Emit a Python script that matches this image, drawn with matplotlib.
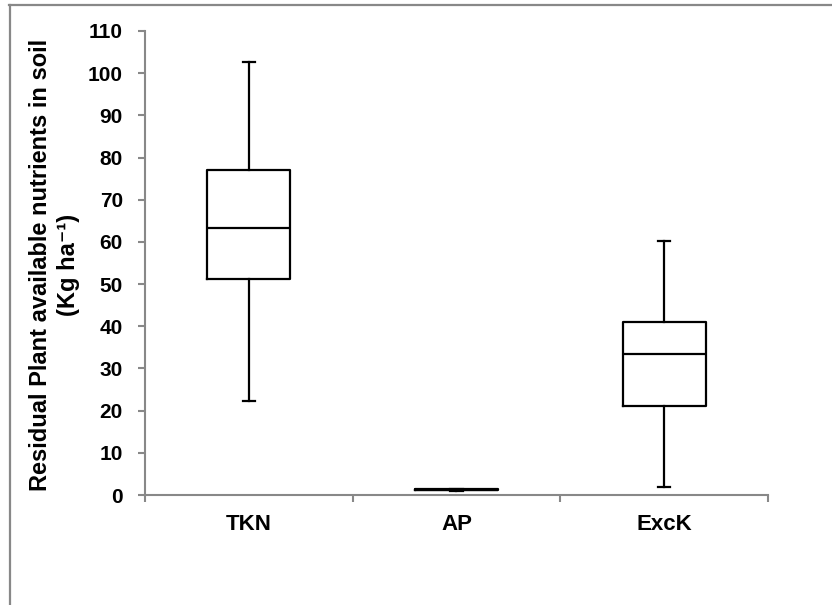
import matplotlib.pyplot as plt
from matplotlib.lines import Line2D

plt.rcParams['font.family'] = ['Liberation Sans', 'DejaVu Sans']

# box plot summary per nutrient (Kg ha-1)
categories = ['TKN', 'AP', 'ExcK']
whisker_low = [22.3, 1.0, 1.8]
quartile1 = [51.3, 1.1, 21.1]
medians = [63.2, 1.2, 33.5]
quartile3 = [77.1, 1.4, 41.0]
whisker_high = [102.7, 1.5, 60.3]
yticks = list(range(0, 111, 10))

stats = []
for i, name in enumerate(categories):
    stats.append(dict(label=name, whislo=whisker_low[i], q1=quartile1[i],
                      med=medians[i], q3=quartile3[i], whishi=whisker_high[i]))

fig = plt.figure(figsize=(8.32, 6.05), dpi=100)
ax = fig.add_axes([0.1743, 0.1818, 0.7487, 0.767])

lw = 1.6
ax.bxp(stats, positions=[1, 2, 3], widths=0.4, capwidths=0.06, showfliers=False,
       boxprops=dict(color='black', linewidth=lw),
       medianprops=dict(color='black', linewidth=lw),
       whiskerprops=dict(color='black', linewidth=lw),
       capprops=dict(color='black', linewidth=lw))

ax.set_xlim(0.5, 3.5)
ax.set_ylim(0, 110)
ax.set_yticks(yticks)

# category boundaries as ticks, names centred between them
ax.set_xticks([0.5, 1.5, 2.5, 3.5])
ax.set_xticklabels([])
ax.set_xticks([1, 2, 3], minor=True)
ax.set_xticklabels(categories, minor=True)
ax.tick_params(axis='x', which='minor', length=0, pad=14)
ax.tick_params(axis='x', which='major', length=5, width=1.5, color='#888888', direction='out')
ax.tick_params(axis='y', length=5, width=1.5, color='#888888', direction='out', pad=11)

for lab in ax.get_yticklabels():
    lab.set_fontweight('bold')
    lab.set_fontsize(15)
for lab in ax.get_xticklabels(minor=True):
    lab.set_fontweight('bold')
    lab.set_fontsize(16)

for side in ['top', 'right']:
    ax.spines[side].set_visible(False)
for side in ['left', 'bottom']:
    ax.spines[side].set_color('#888888')
    ax.spines[side].set_linewidth(1.5)

ax.set_ylabel('Residual Plant available nutrients in soil\n(Kg ha\u207b\u00b9)',
              fontsize=17, fontweight='bold', linespacing=1.3)
ax.yaxis.set_label_coords(-0.104, 0.496)

# outer frame along the top and left edges
fig.add_artist(Line2D([9 / 832, 1], [1 - 5 / 605, 1 - 5 / 605], transform=fig.transFigure,
                      color='#888888', linewidth=1.6))
fig.add_artist(Line2D([10 / 832, 10 / 832], [0, 1 - 5 / 605], transform=fig.transFigure,
                      color='#888888', linewidth=1.6))

fig.savefig('out.png', dpi=100)
